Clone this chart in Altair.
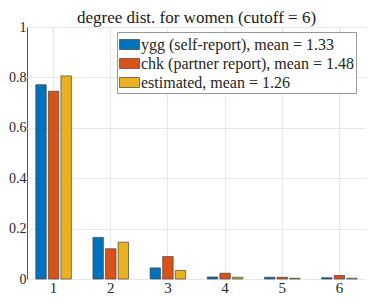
import altair as alt
import pandas as pd

degrees = ["1", "2", "3", "4", "5", "6"]
series = ["ygg (self-report), mean = 1.33",
          "chk (partner report), mean = 1.48",
          "estimated, mean = 1.26"]
ygg = [0.771, 0.165, 0.044, 0.008, 0.007, 0.005]
chk = [0.745, 0.120, 0.089, 0.023, 0.007, 0.014]
est = [0.806, 0.146, 0.034, 0.007, 0.003, 0.003]
colors = ["#0072BD", "#D95319", "#EDB120"]

rows = []
for s, vals in zip(series, [ygg, chk, est]):
    for d, v in zip(degrees, vals):
        rows.append({"degree": d, "series": s, "value": v})
df = pd.DataFrame(rows)

FONT = "Liberation Serif"

chart = alt.Chart(df).mark_bar(stroke="#444444", strokeWidth=0.7).encode(
    x=alt.X("degree:N", sort=degrees,
            scale=alt.Scale(paddingInner=0.34, paddingOuter=0.135),
            axis=alt.Axis(title=None, labelAngle=0, bandPosition=0.5,
                          grid=True, gridColor="#e8e8e8", tickSize=0,
                          domain=False, labelFont=FONT, labelFontSize=15,
                          labelColor="#262626", labelPadding=1)),
    xOffset=alt.XOffset("series:N", sort=series,
                        scale=alt.Scale(paddingInner=0.17, paddingOuter=0.085)),
    y=alt.Y("value:Q", scale=alt.Scale(domain=[0, 1], nice=False),
            axis=alt.Axis(title=None, values=[0, 0.2, 0.4, 0.6, 0.8, 1],
                          format=".1~f", grid=True, gridColor="#e8e8e8",
                          tickSize=0, domain=False, labelFont=FONT,
                          labelFontSize=14, labelColor="#262626",
                          labelPadding=1)),
    color=alt.Color("series:N", sort=series,
                    scale=alt.Scale(domain=series, range=colors),
                    legend=alt.Legend(
                        title=None, orient="none", legendX=90, legendY=5,
                        symbolType="M-1,-0.5H1V0.5H-1Z", symbolSize=400,
                        symbolStrokeColor="#444444", symbolStrokeWidth=0.7,
                        symbolOpacity=1,
                        labelFont=FONT, labelFontSize=16, labelColor="#262626",
                        labelOffset=1, rowPadding=-2,
                        fillColor="white", strokeColor="#999999",
                        padding=2, labelLimit=400)),
).properties(
    width=339, height=252,
    title=alt.Title("degree dist. for women (cutoff = 6)", font=FONT,
                    fontSize=17, fontWeight="normal", color="#1a1a1a",
                    anchor="middle", offset=-7, frame="group"),
    autosize=alt.AutoSizeParams(type="none"),
    padding={"left": 19, "top": 19, "right": 0, "bottom": 15},
).configure_view(stroke="#555555", strokeWidth=1)

chart.save("out.html", embed_options={"renderer": "svg", "actions": False})
